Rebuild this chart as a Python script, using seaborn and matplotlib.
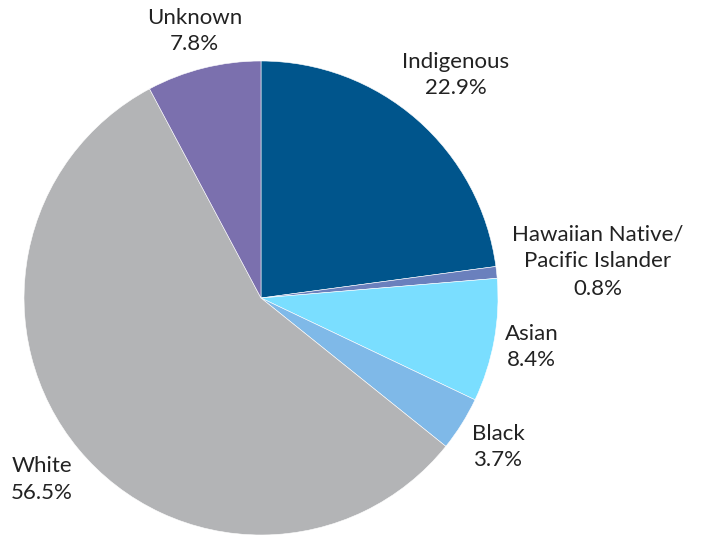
import numpy as np
import matplotlib
matplotlib.use("Agg")
import matplotlib.pyplot as plt
import seaborn as sns

# data
groups = ["Indigenous", "Hawaiian Native/\nPacific Islander", "Asian", "Black", "White", "Unknown"]
shares = [22.9, 0.8, 8.4, 3.7, 56.5, 7.8]
colors = ["#00558C", "#6A80BD", "#7ADEFF", "#7FB9E8", "#B3B4B6", "#7B70AE"]

# how far out each label sits (in radii)
label_dist = [1.25, 1.43, 1.16, 1.18, 1.20, 1.16]

sns.set_theme(style="white")
plt.rcParams['font.family'] = ['Lato', 'DejaVu Sans']

W, H = 708, 536
fig = plt.figure(figsize=(W / 100, H / 100), dpi=100)
cx, cy, r = 261, 298, 237
ax = fig.add_axes([(cx - r) / W, (H - cy - r) / H, 2 * r / W, 2 * r / H])

pal = sns.color_palette(colors)
wedges, _ = ax.pie(shares, colors=pal, startangle=90, counterclock=False,
                   radius=1, wedgeprops=dict(edgecolor="white", linewidth=0.4))
ax.set_xlim(-1, 1)
ax.set_ylim(-1, 1)

for w, name, val, d in zip(wedges, groups, shares, label_dist):
    ang = np.deg2rad((w.theta1 + w.theta2) / 2)
    x, y = d * np.cos(ang), d * np.sin(ang)
    if "\n" in name:
        ax.text(x, y, f"{name}\n{val}%", ha="center", va="center", fontsize=16,
                color="#222222", linespacing=1.46, clip_on=False)
    else:
        ax.text(x, y, f"{name}\n{val}%", ha="center", va="center", fontsize=16,
                color="#222222", linespacing=1.38, clip_on=False)

ax.axis("off")
fig.savefig("out.png", dpi=100)
